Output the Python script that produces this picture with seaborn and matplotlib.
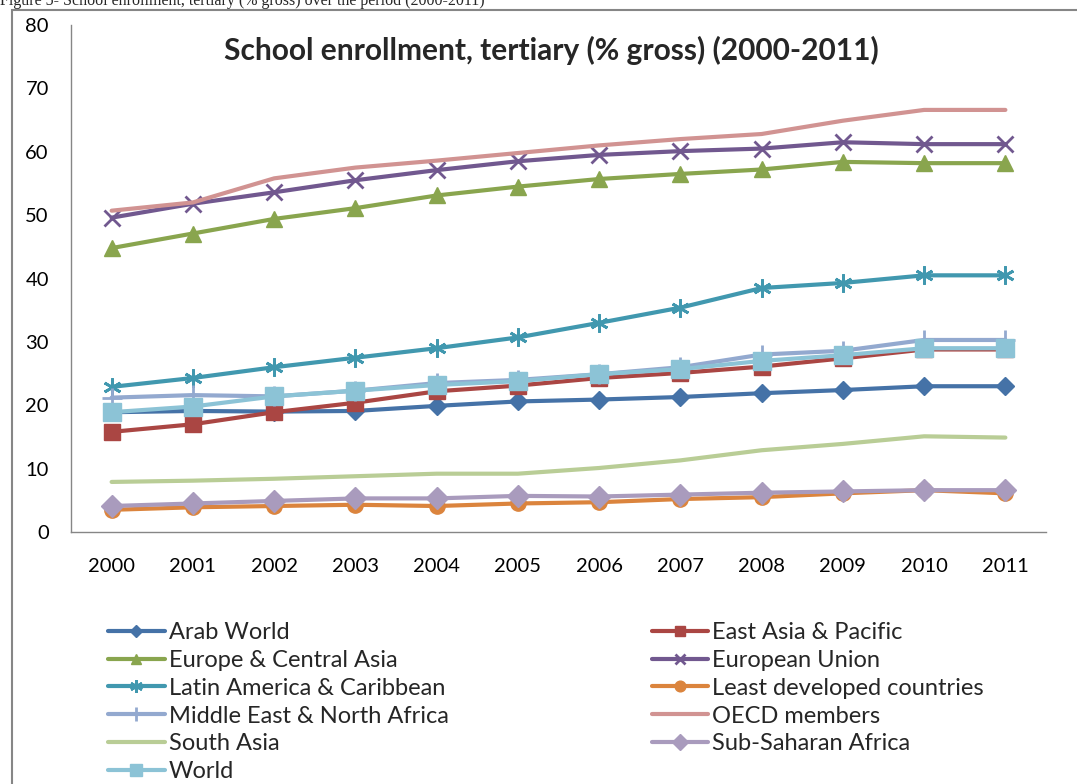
import numpy as np
import pandas as pd
import matplotlib
matplotlib.use("Agg")
import matplotlib.pyplot as plt
from matplotlib.patches import Rectangle
import seaborn as sns

# data
years = [2000, 2001, 2002, 2003, 2004, 2005, 2006, 2007, 2008, 2009, 2010, 2011]

arab_world = [18.9, 19.1, 19.0, 19.1, 19.9, 20.6, 20.9, 21.3, 21.9, 22.4, 23.0, 23.0]
east_asia = [15.8, 17.0, 18.9, 20.4, 22.2, 23.1, 24.3, 25.1, 26.1, 27.4, 28.8, 28.8]
europe_ca = [44.8, 47.1, 49.4, 51.1, 53.1, 54.5, 55.7, 56.5, 57.2, 58.4, 58.2, 58.2]
eu = [49.6, 51.8, 53.6, 55.5, 57.1, 58.5, 59.5, 60.1, 60.5, 61.5, 61.2, 61.2]
latin_am = [22.9, 24.3, 26.0, 27.5, 29.0, 30.7, 33.0, 35.4, 38.5, 39.3, 40.5, 40.5]
least_dev = [3.5, 3.9, 4.1, 4.3, 4.1, 4.5, 4.7, 5.2, 5.5, 6.1, 6.6, 6.1]
mena = [21.2, 21.6, 21.4, 22.3, 23.5, 24.0, 24.9, 26.0, 28.0, 28.6, 30.3, 30.3]
oecd = [50.7, 52.0, 55.8, 57.5, 58.6, 59.8, 61.0, 62.0, 62.8, 64.9, 66.6, 66.6]
south_asia = [7.9, 8.1, 8.4, 8.8, 9.2, 9.2, 10.1, 11.3, 12.9, 13.9, 15.1, 14.9]
ssa = [4.1, 4.5, 4.9, 5.3, 5.3, 5.7, 5.6, 5.9, 6.2, 6.4, 6.6, 6.6]
world = [18.9, 19.8, 21.4, 22.3, 23.2, 23.8, 24.9, 25.7, 27.0, 27.9, 29.0, 29.0]

series_names = ["Arab World", "East Asia & Pacific", "Europe & Central Asia",
                "European Union", "Latin America & Caribbean",
                "Least developed countries", "Middle East & North Africa",
                "OECD members", "South Asia", "Sub-Saharan Africa", "World"]
series_values = [arab_world, east_asia, europe_ca, eu, latin_am, least_dev,
                 mena, oecd, south_asia, ssa, world]

colors = ["#4572A7", "#AA4643", "#89A54E", "#71588F", "#4198AF", "#DB843D",
          "#93A9CF", "#D19392", "#B9CD96", "#A99BBD", "#8CC3D6"]
markers = ["D", "s", "^", "x", (6, 2, 0), "o", "+", "", "", "D", "s"]
msizes = [9, 11, 11, 11, 13, 11, 14, 0, 0, 11, 13]

sns.set_theme(style="white")
plt.rcParams['font.family'] = ['Lato', 'DejaVu Sans']

fig = plt.figure(figsize=(10.77, 7.84), dpi=100)
ax = fig.add_axes([71 / 1077, 1 - 532 / 784, (1046 - 71) / 1077, (532 - 25) / 784])

pos = np.arange(len(years))
handles = []
for name, vals, c, m, ms in zip(series_names, series_values, colors, markers, msizes):
    df = pd.DataFrame({"pos": pos, "value": vals})
    sns.lineplot(data=df, x="pos", y="value", color=c, marker=m, markersize=ms,
                 markeredgecolor=c, markeredgewidth=2 if m in ("x", "+", (6, 2, 0)) else 1,
                 linewidth=3, ax=ax, label=name, legend=False)
    handles.append(ax.lines[-1])

ax.set_xlim(-0.5, len(years) - 0.5)
ax.set_ylim(0, 80)
ax.set_xticks(pos)
ax.set_xticklabels([str(y) for y in years])
ax.set_yticks(range(0, 81, 10))
ax.set_xlabel("")
ax.set_ylabel("")
ax.tick_params(axis="x", length=0, pad=19, labelsize=14.5, colors="#000000")
ax.tick_params(axis="y", length=0, pad=16, labelsize=14.5, colors="#000000")
for s in ["top", "right"]:
    ax.spines[s].set_visible(False)
for s in ["left", "bottom"]:
    ax.spines[s].set_color("#868686")
    ax.spines[s].set_linewidth(1)

fig.text((71 + 1046) / 2 / 1077 - 7 / 1077, 1 - 50 / 784,
         "School enrollment, tertiary (% gross) (2000-2011)",
         fontsize=21.5, fontweight="bold", ha="center", va="center")

# legend: row-major order over two columns
order = [0, 2, 4, 6, 8, 10, 1, 3, 5, 7, 9]
fig.legend([handles[i] for i in order], [series_names[i] for i in order],
           ncol=2, loc="upper left", bbox_to_anchor=(108 / 1077, 1 - 622 / 784),
           frameon=False, fontsize=17, borderpad=0, borderaxespad=0,
           labelspacing=0.29, handlelength=2.4, handletextpad=0.17,
           columnspacing=8.6, markerscale=0.7)

# outer chart frame and caption
fig.patches.append(Rectangle((12 / 1077, -0.1), 1.2, 1.1 - 10 / 784, transform=fig.transFigure,
                             fill=False, edgecolor="#868686", linewidth=1.5))
fig.text(0.0, 1 - 5 / 784, "Figure 5- School enrollment, tertiary (% gross) over the period (2000-2011)",
         fontsize=11.5, family="Liberation Serif", va="baseline", ha="left")

fig.savefig("out.png", dpi=100)
